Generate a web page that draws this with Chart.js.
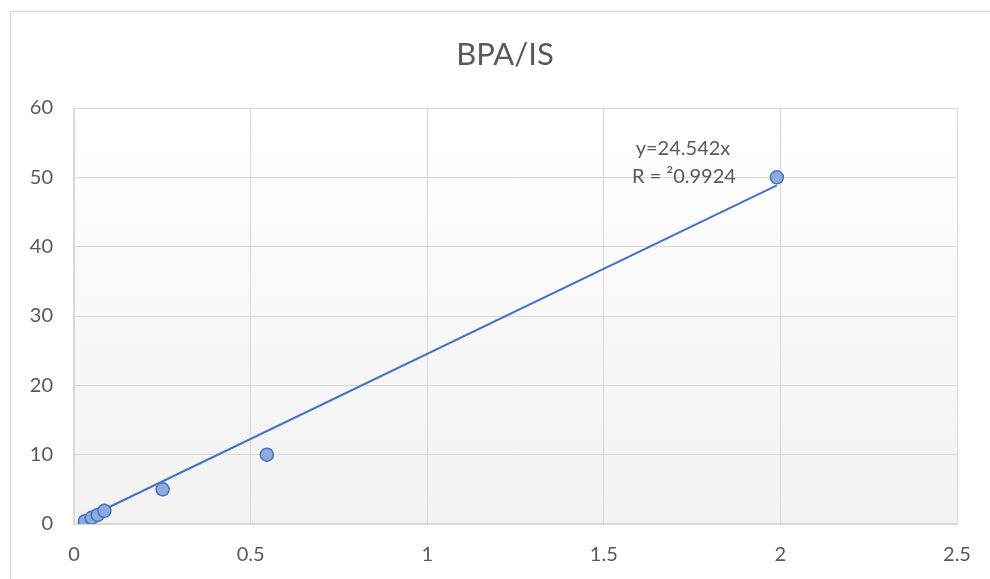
<!DOCTYPE html>
<html>
<head>
<meta charset="utf-8">
<script src="https://cdn.jsdelivr.net/npm/chart.js@4"></script>
<style>
  html, body { margin: 0; padding: 0; background: #ffffff; }
  #chart_canvas { display: block; }
</style>
</head>
<body>
<canvas id="chart_canvas"></canvas>
<script>
//---------------------------------------
// Data
//---------------------------------------

const chart_title = 'BPA/IS';
const point_x = [0.031, 0.05, 0.067, 0.086, 0.251, 0.546, 1.99];
const point_y = [0.4, 0.9, 1.3, 1.9, 5, 10, 50];

// trendline end points
const trend_x = [0.031, 1.99];
const trend_y = [0.76, 48.84];

const x_ticks = [0, 0.5, 1, 1.5, 2, 2.5];
const y_ticks = [0, 10, 20, 30, 40, 50, 60];

const equation_lines = ['y=24.542x', 'R = \u00b20.9924'];

//---------------------------------------
// Global
//---------------------------------------

const text_color = '#595959';
const grid_color = '#d9d9d9';
const font_family = 'Lato, "Open Sans", sans-serif';

//---------------------------------------
// Plugin
//---------------------------------------

// frame, plot gradient, title and trendline label
const frame_plugin = {
  id: 'frame_plugin',
  beforeDraw(chart) {
    const ctx = chart.ctx;
    const area = chart.chartArea;
    ctx.save();
    ctx.fillStyle = '#ffffff';
    ctx.fillRect(0, 0, chart.width, chart.height);

    ctx.strokeStyle = grid_color;
    ctx.lineWidth = 1.5;
    ctx.beginPath();
    ctx.moveTo(10.5, chart.height);
    ctx.lineTo(10.5, 11.5);
    ctx.lineTo(chart.width, 11.5);
    ctx.stroke();

    const grad = ctx.createLinearGradient(0, area.top, 0, area.bottom);
    grad.addColorStop(0, '#ffffff');
    grad.addColorStop(1, '#f2f2f2');
    ctx.fillStyle = grad;
    ctx.fillRect(area.left, area.top, area.right - area.left, area.bottom - area.top);

    // title (centred on the frame, not on the chart box)
    ctx.fillStyle = text_color;
    ctx.font = '31px ' + font_family;
    ctx.textAlign = 'center';
    ctx.textBaseline = 'middle';
    ctx.fillText(chart_title, 505, 55);
    ctx.restore();
  },
  afterDatasetsDraw(chart) {
    const ctx = chart.ctx;
    ctx.save();
    ctx.fillStyle = text_color;
    ctx.font = '20px ' + font_family;
    ctx.textAlign = 'center';
    ctx.textBaseline = 'middle';
    ctx.fillText(equation_lines[0], 683, 149);
    ctx.fillText(equation_lines[1], 684, 177);
    ctx.restore();
  }
};

//---------------------------------------
// Chart
//---------------------------------------

const canvas = document.getElementById('chart_canvas');
canvas.width = 990;
canvas.height = 579;

const chart_obj = new Chart(canvas, {
  type: 'scatter',
  data: {
    datasets: [
      {
        label: 'trend',
        type: 'line',
        data: trend_x.map((x, i) => ({x: x, y: trend_y[i]})),
        borderColor: '#4472c4',
        borderWidth: 2,
        pointRadius: 0,
        fill: false,
        order: 2
      },
      {
        label: 'BPA/IS',
        data: point_x.map((x, i) => ({x: x, y: point_y[i]})),
        backgroundColor: '#8faadc',
        borderColor: '#4472c4',
        borderWidth: 1.5,
        pointRadius: 6.5,
        order: 1
      }
    ]
  },
  options: {
    responsive: false,
    animation: false,
    layout: {
      padding: {left: 0, right: 33, top: 108, bottom: 0}
    },
    plugins: {
      legend: {display: false},
      tooltip: {enabled: false},
      title: {display: false}
    },
    scales: {
      x: {
        type: 'linear',
        min: x_ticks[0],
        max: x_ticks[x_ticks.length - 1],
        afterBuildTicks(scale) {
          scale.ticks = x_ticks.map(v => ({value: v}));
        },
        afterFit(scale) {
          scale.height = 55;
        },
        grid: {color: grid_color, drawTicks: false},
        border: {color: grid_color, width: 1.5},
        ticks: {
          color: text_color,
          font: {family: font_family, size: 20},
          padding: 19,
          callback: v => String(v)
        }
      },
      y: {
        type: 'linear',
        min: y_ticks[0],
        max: y_ticks[y_ticks.length - 1],
        afterBuildTicks(scale) {
          scale.ticks = y_ticks.map(v => ({value: v}));
        },
        afterFit(scale) {
          scale.width = 74;
        },
        grid: {color: grid_color, drawTicks: false},
        border: {color: grid_color, width: 1.5},
        ticks: {
          color: text_color,
          font: {family: font_family, size: 20},
          padding: 21,
          callback: v => String(v)
        }
      }
    }
  },
  plugins: [frame_plugin]
});
</script>
</body>
</html>
